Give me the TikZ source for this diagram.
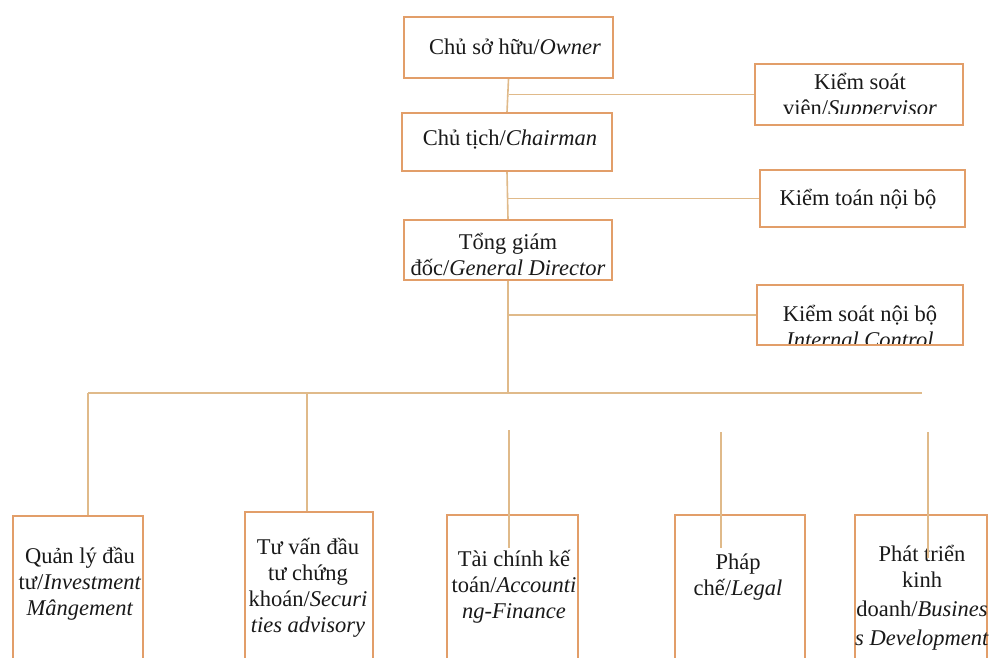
\documentclass[tikz,border=0pt]{standalone}
\usepackage{fontspec}
\setmainfont{Liberation Serif}
\usetikzlibrary{calc}
\definecolor{boxc}{RGB}{226,158,105}
\definecolor{linec}{RGB}{224,186,138}
\tikzset{
  box/.style={draw=boxc, line width=2pt, rectangle, inner sep=0pt},
  lbl/.style={font=\fontsize{22.5}{26}\selectfont, align=center, inner sep=0pt, text=black!90},
  conn/.style={draw=linec, line width=1.6pt},
}
\begin{document}
\begin{tikzpicture}[x=1pt,y=-1pt]
\useasboundingbox (0,0) rectangle (990,657);
\clip (0,0) rectangle (990,657);
\fill[white] (0,0) rectangle (990,657);
% top column boxes
\node[box, minimum width=209pt, minimum height=61pt] (owner) at (508.5,47.5) {};
\node[box, minimum width=210pt, minimum height=58pt] (chair) at (507,142) {};
\node[box, minimum width=208pt, minimum height=60pt] (gd) at (508,250) {};
% side boxes
\node[box, minimum width=208pt, minimum height=61pt] (sup) at (859,94.5) {};
\node[box, minimum width=205pt, minimum height=57pt] (audit) at (862.5,198.5) {};
\node[box, minimum width=206pt, minimum height=60pt] (ic) at (860,315) {};
% bottom boxes
\node[box, minimum width=130pt, minimum height=170pt] (inv) at (78,601) {};
\node[box, minimum width=128pt, minimum height=174pt] (sec) at (309,599) {};
\node[box, minimum width=131pt, minimum height=171pt] (acc) at (512.5,600.5) {};
\node[box, minimum width=130pt, minimum height=171pt] (leg) at (740,600.5) {};
\node[box, minimum width=132pt, minimum height=171pt] (bd) at (921,600.5) {};
% texts
\node[lbl] (towner) at (515,46.5) {Chủ sở hữu/\textit{Owner}};
\node[lbl] (tchair) at (510,139.5) {Chủ tịch/\textit{Chairman}};
\node[lbl] (tgd) at (508,254) {Tổng giám\\đốc/\textit{General Director}};
\begin{scope}
  \clip (sup.north west) rectangle ($(sup.south east)+(0,-13)$);
  \node[lbl] (tsup) at (860,97) {Kiểm soát\\viên/\textit{Suppervisor}};
\end{scope}
\node[lbl] (taudit) at (858,199) {Kiểm toán nội bộ};
\begin{scope}
  \clip (ic.north west) rectangle ($(ic.south east)+(0,-3)$);
  \node[lbl] (tic) at (860,326) {Kiểm soát nội bộ\\\textit{Internal Control}};
\end{scope}
\node[lbl] (tinv) at (80,584) {Quản lý đầu\\tư/\textit{Investment}\\\textit{Mângement}};
\node[lbl] (tsec) at (308,588) {Tư vấn đầu\\tư chứng\\khoán/\textit{Securi}\\\textit{ties advisory}};
\begin{scope}
  \clip ($(acc.north west)+(0,0)$) rectangle ($(acc.south east)+(-3,0)$);
  \node[lbl] (tacc) at (514,587) {Tài chính kế\\toán/\textit{Accounti}\\\textit{ng-Finance}};
\end{scope}
\node[lbl] (tleg) at (738,577) {Pháp\\chế/\textit{Legal}};
\begin{scope}
  \clip (bd.north west) rectangle (bd.south east);
  \node[lbl] (tbd) at (922,598) {Phát triển\\kinh\\[3pt]doanh/\textit{Busines}\\[3pt]\textit{s Development}};
\end{scope}
% connectors
\coordinate (j1) at (sup.west -| owner.south);
\draw[conn] (owner.south) -- (chair.north);
\draw[conn] (sup.west) -- (j1);
\coordinate (j2) at (audit.west -| chair.south);
\draw[conn] (chair.south) -- (gd.north);
\draw[conn] (audit.west) -- (j2);
\coordinate (busc) at (508,393);
\coordinate (j3) at (ic.west -| gd.south);
\draw[conn] (gd.south) -- (busc);
\draw[conn] (ic.west) -- (j3);
\coordinate (busl) at (88,393);
\coordinate (busr) at (922,393);
\draw[conn] (busl) -- (busr);
\draw[conn] (busl) -- (busl |- inv.north);
\coordinate (bsec) at (307,393);
\draw[conn] (bsec) -- (bsec |- sec.north);
\coordinate (dacc) at (509,430);
\coordinate (eacc) at (509,548);
\draw[conn] (dacc) -- (eacc);
\coordinate (dleg) at (721,432);
\coordinate (eleg) at (721,548);
\draw[conn] (dleg) -- (eleg);
\coordinate (dbd) at (928,432);
\coordinate (ebd) at (928,558);
\draw[conn] (dbd) -- (ebd);
\end{tikzpicture}
\end{document}
